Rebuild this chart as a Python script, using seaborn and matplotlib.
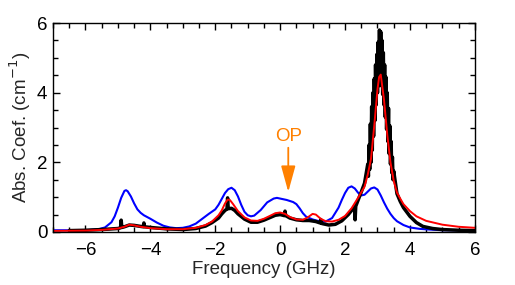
import numpy as np
import pandas as pd
import matplotlib
matplotlib.use("Agg")
import matplotlib.pyplot as plt
import seaborn as sns

# Blue curve (calculated spectrum)
blue_x = [-7.0, -6.0, -5.6, -5.4, -5.2, -5.1, -5.0, -4.9, -4.8, -4.75, -4.7, -4.6, -4.5, -4.4,
          -4.3, -4.2, -4.0, -3.8, -3.6, -3.4, -3.2, -3.0, -2.8, -2.6, -2.4, -2.2, -2.0, -1.9,
          -1.8, -1.7, -1.6, -1.5, -1.4, -1.3, -1.2, -1.1, -1.0, -0.9, -0.8, -0.6, -0.4, -0.2,
          -0.1, 0.0, 0.2, 0.4, 0.5, 0.6, 0.7, 0.8, 1.0, 1.2, 1.4, 1.6, 1.8, 1.9, 2.0, 2.1, 2.2,
          2.3, 2.4, 2.5, 2.6, 2.7, 2.8, 2.9, 3.0, 3.1, 3.2, 3.3, 3.4, 3.5, 3.6, 3.8, 4.0, 4.3,
          4.6, 5.0, 6.0]
blue_y = [0.05, 0.05, 0.08, 0.13, 0.28, 0.45, 0.70, 0.98, 1.18, 1.20, 1.17, 1.02, 0.82, 0.65,
          0.55, 0.48, 0.38, 0.27, 0.18, 0.13, 0.11, 0.12, 0.16, 0.24, 0.38, 0.52, 0.65, 0.78,
          0.95, 1.12, 1.23, 1.27, 1.20, 1.02, 0.78, 0.58, 0.48, 0.45, 0.47, 0.63, 0.85, 0.96,
          0.98, 0.96, 0.92, 0.86, 0.80, 0.68, 0.54, 0.44, 0.36, 0.31, 0.30, 0.40, 0.70, 0.92,
          1.12, 1.27, 1.31, 1.25, 1.13, 1.05, 1.07, 1.16, 1.25, 1.28, 1.22, 1.05, 0.85, 0.67,
          0.52, 0.40, 0.31, 0.20, 0.13, 0.09, 0.07, 0.05, 0.04]

# Red curve (fit)
red_x = [-7.0, -6.0, -5.5, -5.0, -4.8, -4.65, -4.5, -4.3, -4.0, -3.5, -3.0, -2.6, -2.3, -2.1,
         -1.9, -1.8, -1.7, -1.62, -1.55, -1.45, -1.3, -1.1, -0.9, -0.7, -0.5, -0.3, -0.15, 0.0,
         0.15, 0.3, 0.5, 0.7, 0.85, 1.0, 1.1, 1.25, 1.4, 1.6, 1.8, 2.0, 2.2, 2.4, 2.6, 2.7, 2.8,
         2.9, 3.0, 3.05, 3.1, 3.2, 3.3, 3.4, 3.5, 3.6, 3.7, 3.8, 4.0, 4.2, 4.5, 5.0, 5.5, 6.0]
red_y = [0.03, 0.04, 0.06, 0.10, 0.15, 0.21, 0.19, 0.15, 0.11, 0.08, 0.08, 0.12, 0.20, 0.30,
         0.48, 0.62, 0.82, 0.93, 0.92, 0.80, 0.60, 0.42, 0.33, 0.32, 0.38, 0.47, 0.54, 0.56,
         0.52, 0.43, 0.36, 0.35, 0.42, 0.52, 0.50, 0.38, 0.31, 0.30, 0.35, 0.46, 0.68, 0.98,
         1.30, 1.65, 2.10, 3.05, 4.10, 4.45, 4.52, 3.80, 2.80, 2.00, 1.47, 1.13, 0.96, 0.80,
         0.60, 0.45, 0.32, 0.21, 0.15, 0.12]

# Black curve (measured, noisy), main peak read as alternating high/low samples
black_x = [-6.5, -6.0, -5.5, -5.0, -4.92, -4.90, -4.88, -4.8, -4.65, -4.5, -4.3, -4.22, -4.20,
           -4.18, -4.0, -3.5, -3.0, -2.6, -2.3, -2.1, -1.9, -1.8, -1.7, -1.64, -1.62, -1.60,
           -1.5, -1.4, -1.3, -1.1, -0.9, -0.7, -0.5, -0.3, -0.15, 0.0, 0.13, 0.15, 0.17, 0.3,
           0.5, 0.7, 0.9, 1.1, 1.23, 1.25, 1.27, 1.3, 1.5, 1.7, 1.9, 2.1, 2.29, 2.31, 2.33,
           2.5, 2.6,
           2.70, 2.72, 2.74, 2.76, 2.78, 2.80, 2.82, 2.84, 2.86, 2.88, 2.90, 2.92, 2.94, 2.96,
           2.98, 3.00, 3.02, 3.04, 3.06, 3.08, 3.10, 3.12, 3.14, 3.16, 3.18, 3.20, 3.22, 3.24,
           3.26, 3.28, 3.30, 3.32, 3.34, 3.36, 3.38, 3.40, 3.42, 3.44, 3.46, 3.48, 3.50,
           3.6, 3.7, 3.8, 4.0, 4.2, 4.4, 4.7, 5.0, 5.5, 6.0]
black_y = [0.04, 0.05, 0.07, 0.10, 0.12, 0.34, 0.13, 0.15, 0.20, 0.19, 0.16, 0.15, 0.26,
           0.15, 0.13, 0.09, 0.07, 0.10, 0.17, 0.27, 0.40, 0.52, 0.62, 0.66, 0.98, 0.67,
           0.68, 0.62, 0.52, 0.37, 0.28, 0.28, 0.34, 0.42, 0.48, 0.50, 0.47, 0.60, 0.47, 0.40,
           0.35, 0.33, 0.33, 0.30, 0.26, 0.36, 0.25, 0.24, 0.20, 0.22, 0.32, 0.50, 0.72, 0.35,
           0.74, 1.15, 1.40,
           1.95, 1.60, 2.50, 1.80, 3.10, 2.00, 3.60, 2.35, 4.00, 2.75, 4.40, 3.20, 4.80, 3.65,
           5.10, 4.00, 5.45, 4.20, 5.80, 4.30, 5.75, 4.20, 5.50, 3.95, 5.15, 3.65, 4.80, 3.30,
           4.45, 2.95, 4.00, 2.60, 3.55, 2.25, 3.05, 1.95, 2.60, 1.70, 2.15, 1.50, 1.75,
           1.10, 0.88, 0.70, 0.45, 0.27, 0.16, 0.10, 0.07, 0.05, 0.04]

# "OP" marker position
op_x = 0.25
op_tip_y = 1.15
op_tail_y = 2.42
op_text_y = 2.62

sns.set_style("ticks")
plt.rcParams['font.family'] = ['Liberation Sans', 'DejaVu Sans']

fig = plt.figure(figsize=(5.15, 2.85), dpi=100)
ax = fig.add_axes([0.103, 0.186, 0.819, 0.733])

sns.lineplot(x=blue_x, y=blue_y, ax=ax, color='#0000ff', linewidth=1.5,
             sort=False, estimator=None)
sns.lineplot(x=black_x, y=black_y, ax=ax, color='black', linewidth=2.5,
             sort=False, estimator=None)
sns.lineplot(x=red_x, y=red_y, ax=ax, color='#ff0000', linewidth=1.4,
             sort=False, estimator=None)

orange = '#ff8000'
ax.annotate('', xy=(op_x, op_tip_y), xytext=(op_x, op_tail_y),
            arrowprops=dict(arrowstyle='-|>,head_length=0.8,head_width=0.22', color=orange,
                            lw=1.3, mutation_scale=20, shrinkA=0, shrinkB=0))
ax.text(op_x, op_text_y, 'OP', color=orange, fontsize=13.5, ha='center', va='baseline')

ax.set_xlim(-7, 6)
ax.set_ylim(0, 6)
ax.set_xticks([-6, -4, -2, 0, 2, 4, 6])
ax.set_yticks([0, 2, 4, 6])
ax.set_xticks(np.arange(-7, 6.01, 0.5), minor=True)
ax.set_yticks(np.arange(0, 6.01, 0.5), minor=True)
ax.tick_params(which='both', direction='in', top=True, right=True, width=1.0,
               labelsize=13.5, colors='black')
ax.tick_params(which='major', length=5)
ax.tick_params(which='minor', length=3.5)
ax.tick_params(axis='x', which='major', pad=7)
ax.tick_params(axis='y', which='major', pad=4)
for s in ax.spines.values():
    s.set_linewidth(1.0)
    s.set_color('black')

ax.set_xlabel('Frequency (GHz)', fontsize=13.5, labelpad=2)
ax.set_ylabel('Abs. Coef. (cm$^{-1}$)', fontsize=13.5, labelpad=3)

fig.savefig('out.png', dpi=100)
